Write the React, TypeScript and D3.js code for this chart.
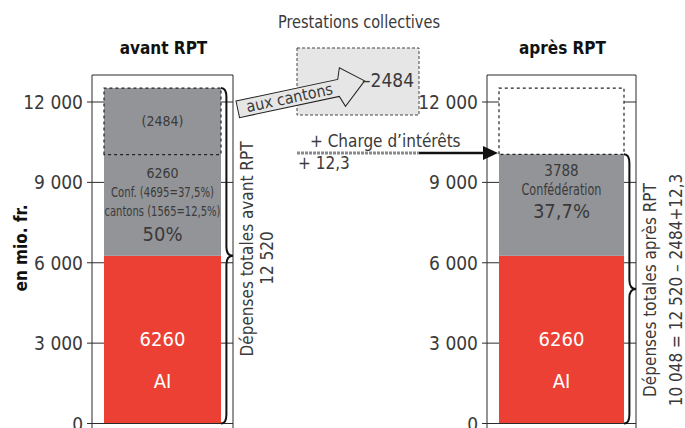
import * as d3 from 'd3';

// valeurs (mio. fr.)
const panelNames = ['avant RPT', 'après RPT'];
const aiValues = [6260, 6260];
const otherValues = [6260, 3788];
const totals = [12520, 10048];
const transferValue = 2484;
const interestValue = 12.3;
const yTickValues = [0, 3000, 6000, 9000, 12000];

const grayLabels = [
  ['6260', 'Conf. (4695=37,5%)', 'cantons (1565=12,5%)', '50%'],
  ['3788', 'Confédération', '37,7%'],
];
const redLabels = ['6260', 'AI'];
const braceLabels = [
  ['Dépenses totales avant RPT', '12 520'],
  ['Dépenses totales après RPT', '10 048 = 12 520 – 2484+12,3'],
];

const W = 685;
const H = 428;
const FONT = "'DejaVu Sans Condensed', 'Liberation Sans', sans-serif";
const RED = '#ec4035';
const GRAY = '#939498';
const INK = '#2b2b2b';
const TEXT = '#3a3a3a';

// cadre de chaque panneau : bord gauche, bord droit, barre
const panels = [
  { frameL: 92, frameR: 233, barL: 104, barR: 221, labelX: 83 },
  { frameL: 487, frameR: 636, barL: 499, barR: 624, labelX: 478 },
];

// mise en forme des étiquettes grises : décalage, taille, largeur forcée
const grayStyle = [
  [
    { dy: 18, size: 14, len: 0 },
    { dy: 37, size: 14, len: 103 },
    { dy: 56, size: 14, len: 116 },
    { dy: 79, size: 20, len: 0 },
  ],
  [
    { dy: 17, size: 15, len: 0 },
    { dy: 36, size: 15, len: 80 },
    { dy: 57, size: 20, len: 0 },
  ],
];

const y = d3.scaleLinear().domain([0, 12000]).range([423.5, 102]);
const fmt = d3.formatLocale({ decimal: ',', thousands: ' ', grouping: [3], currency: ['', ''] }).format(',');

function bracePath(x: number, y0: number, y1: number, w: number) {
  const mid = (y0 + y1) / 2;
  const xm = x + w * 0.45;
  const r = 9;
  return `M${x},${y0} Q${xm},${y0} ${xm},${y0 + r} L${xm},${mid - r} Q${xm},${mid} ${x + w},${mid} Q${xm},${mid} ${xm},${mid + r} L${xm},${y1 - r} Q${xm},${y1} ${x},${y1}`;
}

export default function App() {
  return (
    <svg width={W} height={H} style={{ position: 'absolute', left: 0, top: 0, background: '#fff' }} fontFamily={FONT}>
      {/* titres */}
      <text x={359} y={28} textAnchor="middle" fontSize={17} fill={TEXT} textLength={162} lengthAdjust="spacingAndGlyphs">
        Prestations collectives
      </text>
      {panels.map((p, i) => (
        <text key={'t' + i} x={(p.frameL + p.frameR) / 2 + 1} y={54} textAnchor="middle" fontSize={17} fontWeight="bold" fill="#111">
          {panelNames[i]}
        </text>
      ))}
      <text transform={`translate(27,248) rotate(-90)`} textAnchor="middle" fontSize={17} fontWeight="bold" fill="#111">en mio. fr.</text>

      {panels.map((p, i) => {
        const cx = (p.barL + p.barR) / 2;
        const aiTop = y(aiValues[i]);
        const total = aiValues[i] + otherValues[i];
        const grayTop = y(total);
        const boxBottom = i === 0 ? y(totals[0] - transferValue) : y(totals[1]);
        const boxTop = y(totals[0]);
        const grayTextTop = i === 0 ? boxBottom : grayTop;
        const braceTop = y(totals[i]);
        return (
          <g key={i}>
            {/* cadre */}
            <path d={`M${p.frameL},${H + 5} V75 H${p.frameR} V${H + 5}`} fill="none" stroke={INK} strokeWidth={1} />
            {/* barres */}
            <rect x={p.barL} y={aiTop} width={p.barR - p.barL} height={y(0) - aiTop} fill={RED} />
            <rect x={p.barL} y={grayTop} width={p.barR - p.barL} height={aiTop - grayTop} fill={GRAY} />
            {/* boîte pointillée */}
            <path
              d={`M${p.barL},${boxBottom} V${boxTop} H${p.barR} V${boxBottom} Z`}
              fill="none"
              stroke="#222"
              strokeWidth={1.2}
              strokeDasharray="3,3"
            />
            {i === 0 && (
              <text x={cx} y={(boxTop + boxBottom) / 2} textAnchor="middle" dominantBaseline="central" fontSize={14} fill={TEXT}>
                ({transferValue})
              </text>
            )}
            {/* graduations */}
            {yTickValues.map((v) => (
              <g key={v}>
                <line x1={p.frameL - 5} x2={p.barL} y1={y(v)} y2={y(v)} stroke={INK} strokeWidth={1} />
                <line x1={p.barR} x2={p.frameR} y1={y(v)} y2={y(v)} stroke={INK} strokeWidth={1} />
                <text x={p.labelX} y={y(v)} textAnchor="end" dominantBaseline="central" fontSize={19} fill={TEXT}>
                  {fmt(v)}
                </text>
              </g>
            ))}
            <line x1={p.frameL - 5} x2={p.frameR} y1={y(0)} y2={y(0)} stroke={INK} strokeWidth={1} />
            {/* étiquettes */}
            {grayLabels[i].map((s, k) => {
              const st = grayStyle[i][k];
              return (
                <text
                  key={k}
                  x={cx}
                  y={grayTextTop + st.dy}
                  textAnchor="middle"
                  dominantBaseline="central"
                  fontSize={st.size}
                  fill={TEXT}
                  {...(st.len ? { textLength: st.len, lengthAdjust: 'spacingAndGlyphs' } : {})}
                >
                  {s}
                </text>
              );
            })}
            <text x={cx} y={(aiTop + y(0)) / 2 - 1} textAnchor="middle" dominantBaseline="central" fontSize={20} fill="#fff">{redLabels[0]}</text>
            <text x={cx} y={(aiTop + y(0)) / 2 + 41} textAnchor="middle" dominantBaseline="central" fontSize={20} fill="#fff">{redLabels[1]}</text>
            {/* accolade */}
            <path d={bracePath(p.barR, braceTop, y(0), p.frameR - p.barR)} fill="none" stroke="#111" strokeWidth={2} />
            <text
              transform={`translate(${p.frameR + 14},${i === 0 ? 249 : 290}) rotate(-90)`}
              textAnchor="middle"
              dominantBaseline="central"
              fontSize={17}
              fill={TEXT}
            >
              {braceLabels[i][0]}
            </text>
            <text
              transform={`translate(${p.frameR + (i === 0 ? 34 : 40)},${i === 0 ? 258 : 290}) rotate(-90)`}
              textAnchor="middle"
              dominantBaseline="central"
              fontSize={17}
              fill={TEXT}
            >
              {braceLabels[i][1]}
            </text>
          </g>
        );
      })}

      {/* prestations collectives */}
      <rect x={297} y={48} width={122} height={67} fill="#e6e6e7" stroke="#444" strokeWidth={1} strokeDasharray="3,2" />
      <g transform="translate(236,101) rotate(-12)">
        <path d="M0,0 L104,0 L108,-11 L130,7 L106,28 L102,17 L0,17 Z" fill="#e6e6e7" stroke="#222" strokeWidth={1} />
        <text x={9} y={13.5} fontSize={16} fill={TEXT}>aux cantons</text>
      </g>
      <text x={362} y={80} dominantBaseline="central" fontSize={19} fill={TEXT}>–{transferValue}</text>

      {/* charge d'intérêts */}
      <text x={310} y={147} fontSize={17} fill={TEXT}>+ Charge d’intérêts</text>
      <text x={298} y={169} fontSize={17} fill={TEXT}>+ {fmt(interestValue).replace('.', ',')}</text>
      <line x1={297} x2={419} y1={153} y2={153} stroke="#8a8a8c" strokeWidth={3} strokeDasharray="3,1" />
      <line x1={419} x2={485} y1={153} y2={153} stroke="#111" strokeWidth={2.5} />
      <path d="M483,146 L498,153 L483,160 Z" fill="#111" />
    </svg>
  );
}
